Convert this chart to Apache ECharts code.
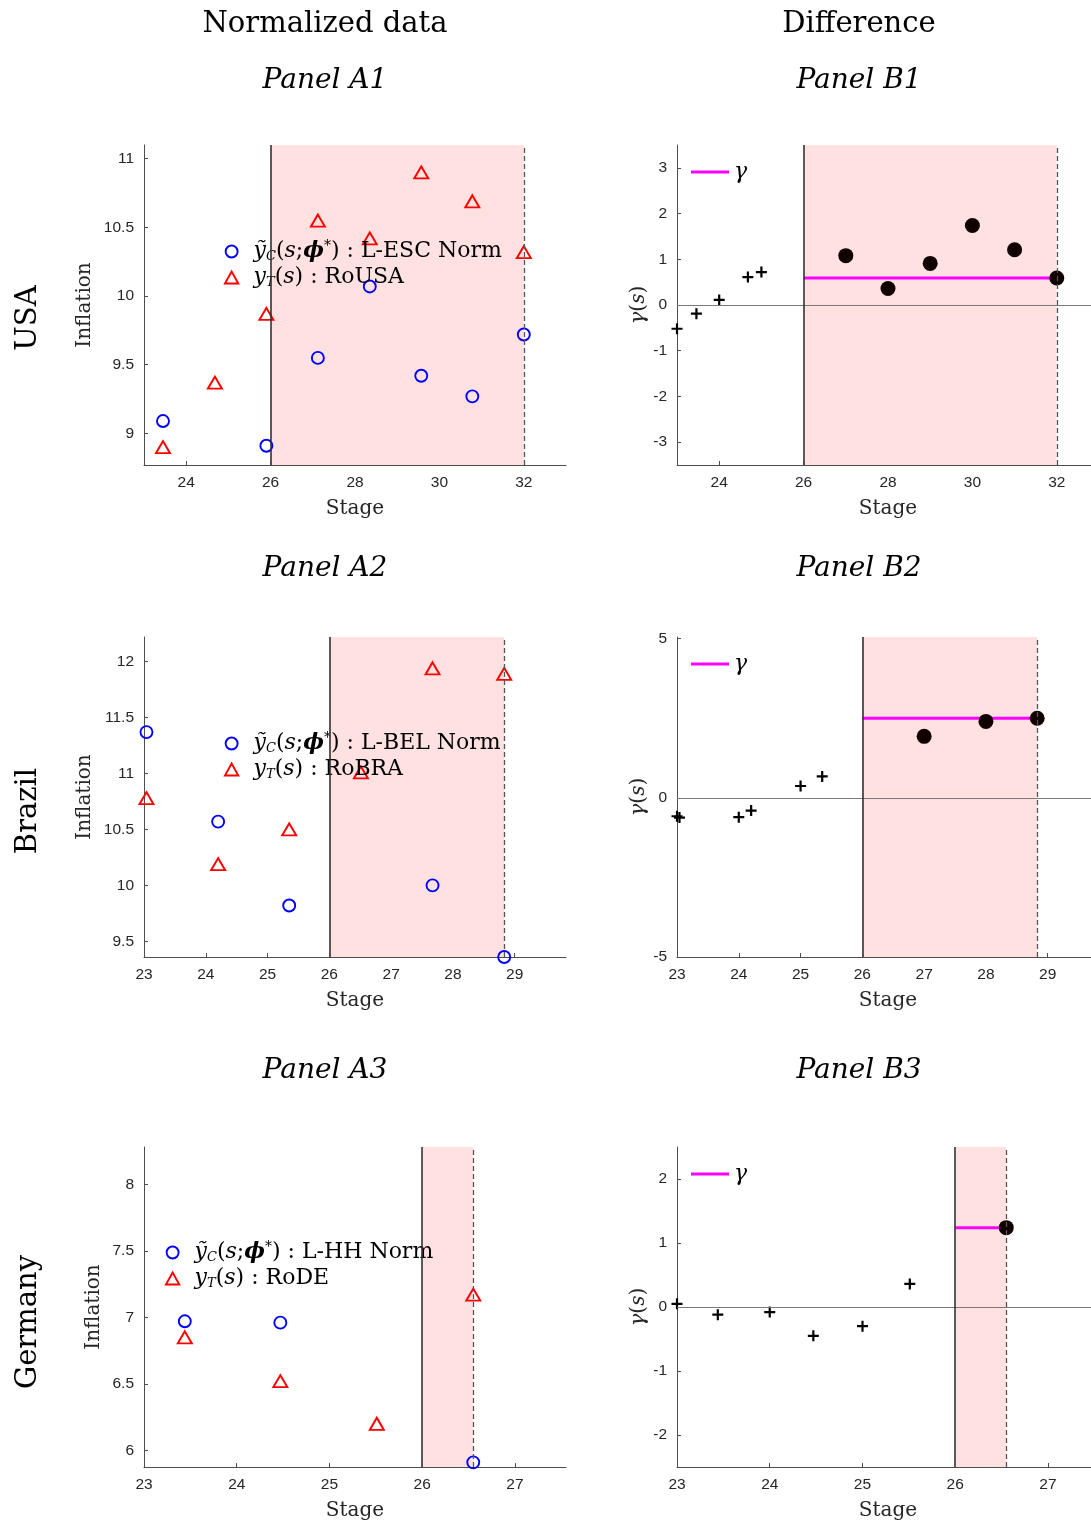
<!DOCTYPE html>
<html>
<head>
<meta charset="utf-8">
<script src="https://cdn.jsdelivr.net/npm/echarts@6/dist/echarts.min.js"></script>
<style>
  html, body { margin: 0; padding: 0; background: #fff; }
  #chart { width: 1091px; height: 1523px; }
</style>
</head>
<body>
<div id="chart"></div>
<script>
// ---------- USA ----------
const usaControlStage = [23.45, 25.90, 27.12, 28.35, 29.57, 30.78, 32.00];
const usaControl      = [9.09, 8.91, 9.55, 10.07, 9.42, 9.27, 9.72];
const usaTreatStage   = [23.45, 24.68, 25.90, 27.12, 28.35, 29.57, 30.78, 32.00];
const usaTreat        = [8.90, 9.37, 9.87, 10.55, 10.42, 10.90, 10.69, 10.32];
const usaPreStage     = [23.00, 23.46, 24.00, 24.68, 25.00];
const usaPreDiff      = [-0.52, -0.19, 0.11, 0.61, 0.72];
const usaPostStage    = [27, 28, 29, 30, 31, 32];
const usaPostDiff     = [1.08, 0.36, 0.91, 1.74, 1.21, 0.59];
const usaGamma        = 0.59;
const usaTreatStart   = 26;
const usaLastStage    = 32;
const usaStageRange   = [23, 33];
const usaStageTicks   = [24, 26, 28, 30, 32];
const usaLevelRange   = [8.77, 11.10];
const usaLevelTicks   = [9, 9.5, 10, 10.5, 11];
const usaDiffRange    = [-3.5, 3.5];
const usaDiffTicks    = [-3, -2, -1, 0, 1, 2, 3];

// ---------- Brazil ----------
const braControlStage = [23.04, 24.20, 25.35, 27.67, 28.83];
const braControl      = [11.37, 10.57, 9.82, 10.00, 9.36];
const braTreatStage   = [23.04, 24.20, 25.35, 26.51, 27.67, 28.83];
const braTreat        = [10.78, 10.19, 10.50, 11.01, 11.94, 11.89];
const braPreStage     = [23.00, 23.04, 24.00, 24.20, 25.00, 25.35];
const braPreDiff      = [-0.58, -0.62, -0.61, -0.40, 0.37, 0.67];
const braPostStage    = [27, 28, 28.83];
const braPostDiff     = [1.93, 2.40, 2.50];
const braGamma        = 2.50;
const braTreatStart   = 26;
const braLastStage    = 28.83;
const braStageRange   = [23, 29.83];
const braStageTicks   = [23, 24, 25, 26, 27, 28, 29];
const braLevelRange   = [9.36, 12.22];
const braLevelTicks   = [9.5, 10, 10.5, 11, 11.5, 12];
const braDiffRange    = [-5, 5.05];
const braDiffTicks    = [-5, 0, 5];

// ---------- Germany ----------
const gerControlStage = [23.44, 24.47, 26.55];
const gerControl      = [6.97, 6.96, 5.91];
const gerTreatStage   = [23.44, 24.47, 25.51, 26.55];
const gerTreat        = [6.85, 6.52, 6.20, 7.17];
const gerPreStage     = [23.00, 23.44, 24.00, 24.47, 25.00, 25.51];
const gerPreDiff      = [0.05, -0.12, -0.08, -0.45, -0.30, 0.36];
const gerPostStage    = [26.55];
const gerPostDiff     = [1.24];
const gerGamma        = 1.24;
const gerTreatStart   = 26;
const gerLastStage    = 26.55;
const gerStageRange   = [23, 27.55];
const gerStageTicks   = [23, 24, 25, 26, 27];
const gerLevelRange   = [5.875, 8.28];
const gerLevelTicks   = [6, 6.5, 7, 7.5, 8];
const gerDiffRange    = [-2.5, 2.5];
const gerDiffTicks    = [-2, -1, 0, 1, 2];

// ---------- labels ----------
const columnTitles = ['Normalized data', 'Difference'];
const countryNames = ['USA', 'Brazil', 'Germany'];
const controlNames = ['L-ESC Norm', 'L-BEL Norm', 'L-HH Norm'];
const treatNames   = ['RoUSA', 'RoBRA', 'RoDE'];

const SERIF = '"DejaVu Serif", "Liberation Serif", serif';
const SANS  = '"Liberation Sans", Arial, sans-serif';
const AXIS_COLOR = '#4d4d4d';
const TEXT_COLOR = '#262626';
const PLUS_PATH = 'path://M4,0H6V4H10V6H6V10H4V6H0V4H4Z';
const TRI_PATH  = 'path://M5,0L10,9L0,9Z';

const zip = (xs, ys) => xs.map((x, i) => [x, ys[i]]);

const rows = [
  { ctrlX: usaControlStage, ctrl: usaControl, trtX: usaTreatStage, trt: usaTreat,
    preX: usaPreStage, pre: usaPreDiff, postX: usaPostStage, post: usaPostDiff, gamma: usaGamma,
    start: usaTreatStart, last: usaLastStage, xr: usaStageRange, xt: usaStageTicks,
    lr: usaLevelRange, lt: usaLevelTicks, dr: usaDiffRange, dt: usaDiffTicks },
  { ctrlX: braControlStage, ctrl: braControl, trtX: braTreatStage, trt: braTreat,
    preX: braPreStage, pre: braPreDiff, postX: braPostStage, post: braPostDiff, gamma: braGamma,
    start: braTreatStart, last: braLastStage, xr: braStageRange, xt: braStageTicks,
    lr: braLevelRange, lt: braLevelTicks, dr: braDiffRange, dt: braDiffTicks },
  { ctrlX: gerControlStage, ctrl: gerControl, trtX: gerTreatStage, trt: gerTreat,
    preX: gerPreStage, pre: gerPreDiff, postX: gerPostStage, post: gerPostDiff, gamma: gerGamma,
    start: gerTreatStart, last: gerLastStage, xr: gerStageRange, xt: gerStageTicks,
    lr: gerLevelRange, lt: gerLevelTicks, dr: gerDiffRange, dt: gerDiffTicks }
];

// layout of the 3x2 panel grid
const rowTop = [145, 637, 1147];
const rowHeight = 320;
const colLeft = [144, 677];
const colWidth = 422;
const legendLeftA = [224, 224, 165];
const legendTopA = [239, 731, 1240];
const levelNameGap = [49, 49, 40];
const titleY = [81, 569, 1071];
const countryY = [318, 811, 1322];

const option = {
  animation: false,
  backgroundColor: '#fff',
  grid: [], xAxis: [], yAxis: [], series: [], legend: [], graphic: []
};

function valueAxis(gridIndex, range, ticks) {
  return {
    type: 'value', gridIndex, min: range[0], max: range[1],
    axisLine: { show: true, onZero: false, lineStyle: { color: AXIS_COLOR, width: 1 } },
    axisTick: { show: true, inside: true, length: 4, customValues: ticks, lineStyle: { color: AXIS_COLOR } },
    axisLabel: { show: true, customValues: ticks, color: TEXT_COLOR, fontFamily: SANS, fontSize: 15.5, margin: 10 },
    splitLine: { show: false }
  };
}

const legendRich = {
  it:  { fontFamily: SERIF, fontStyle: 'italic', fontSize: 22, lineHeight: 26, color: '#000' },
  rm:  { fontFamily: SERIF, fontSize: 22, lineHeight: 26, color: '#000' },
  sub: { fontFamily: SERIF, fontStyle: 'italic', fontSize: 13, lineHeight: 26, color: '#000', padding: [10, 0, 0, 0] },
  phi: { fontFamily: SERIF, fontStyle: 'italic', fontWeight: 'bold', fontSize: 22, lineHeight: 26, color: '#000' },
  sup: { fontFamily: SERIF, fontSize: 14, lineHeight: 26, color: '#000', padding: [0, 0, 11, 0] },
  g:   { fontFamily: SERIF, fontStyle: 'italic', fontSize: 22, lineHeight: 24, color: '#000' }
};

rows.forEach((r, i) => {
  const gA = i * 2, gB = i * 2 + 1;
  const top = rowTop[i];

  // ---- left column: normalized levels ----
  option.grid.push({ left: colLeft[0], top, width: colWidth, height: rowHeight, containLabel: false, outerBoundsMode: 'none' });
  option.xAxis.push(Object.assign(valueAxis(gA, r.xr, r.xt), {
    name: 'Stage', nameLocation: 'middle', nameGap: 34,
    nameTextStyle: { fontFamily: SERIF, fontSize: 20, color: TEXT_COLOR }
  }));
  option.yAxis.push(Object.assign(valueAxis(gA, r.lr, r.lt), {
    name: 'Inflation', nameLocation: 'middle', nameGap: levelNameGap[i], nameRotate: 90,
    nameTextStyle: { fontFamily: SERIF, fontSize: 20, color: TEXT_COLOR }
  }));

  // treatment window and stage markers
  option.series.push({
    type: 'line', xAxisIndex: gA, yAxisIndex: gA, data: [], silent: true, z: 1,
    markArea: { silent: true, itemStyle: { color: '#ffe1e2', opacity: 1 },
      data: [[{ xAxis: r.start }, { xAxis: r.last }]] },
    markLine: { silent: true, symbol: ['none', 'none'], label: { show: false },
      data: [
        { xAxis: r.start, lineStyle: { type: 'solid', color: '#333', width: 1.6 } },
        { xAxis: r.last, lineStyle: { type: [5, 3], color: '#555', width: 1.3 } }
      ] }
  });
  option.series.push({
    type: 'scatter', name: controlNames[i], xAxisIndex: gA, yAxisIndex: gA, clip: false, z: 3,
    data: zip(r.ctrlX, r.ctrl), symbol: 'circle', symbolSize: 12,
    itemStyle: { color: 'rgba(0,0,0,0)', borderColor: '#0000ff', borderWidth: 1.9, opacity: 1 }
  });
  option.series.push({
    type: 'scatter', name: treatNames[i], xAxisIndex: gA, yAxisIndex: gA, clip: false, z: 3,
    data: zip(r.trtX, r.trt), symbol: 'triangle', symbolSize: [14, 12],
    itemStyle: { color: 'rgba(0,0,0,0)', borderColor: '#ff0000', borderWidth: 1.9, opacity: 1 }
  });
  option.legend.push({
    orient: 'vertical', left: legendLeftA[i], top: legendTopA[i], padding: 0,
    itemWidth: 34, itemHeight: 12, itemGap: 2, selectedMode: false,
    data: [
      { name: controlNames[i], icon: 'circle', itemStyle: { color: 'rgba(0,0,0,0)', borderColor: '#0000ff', borderWidth: 1.9 } },
      { name: treatNames[i], icon: TRI_PATH, itemStyle: { color: 'rgba(0,0,0,0)', borderColor: '#ff0000', borderWidth: 1.9 } }
    ],
    formatter: name => name === controlNames[i]
      ? '{it|ỹ}{sub|C}{rm|(}{it|s}{rm|;}{phi|ϕ}{sup|*}{rm|) : ' + name + '}'
      : '{it|y}{sub|T}{rm|(}{it|s}{rm|) : ' + name + '}',
    textStyle: { rich: legendRich }
  });

  // ---- right column: differences ----
  option.grid.push({ left: colLeft[1], top, width: colWidth, height: rowHeight, containLabel: false, outerBoundsMode: 'none' });
  option.xAxis.push(Object.assign(valueAxis(gB, r.xr, r.xt), {
    name: 'Stage', nameLocation: 'middle', nameGap: 34,
    nameTextStyle: { fontFamily: SERIF, fontSize: 20, color: TEXT_COLOR }
  }));
  option.yAxis.push(Object.assign(valueAxis(gB, r.dr, r.dt), {
    name: '{g|γ}{r|(}{i|s}{r|)}', nameLocation: 'middle', nameGap: 27, nameRotate: 90,
    nameTextStyle: { color: TEXT_COLOR, rich: {
      g: { fontFamily: SERIF, fontStyle: 'italic', fontSize: 21, color: TEXT_COLOR },
      i: { fontFamily: SERIF, fontStyle: 'italic', fontSize: 20, color: TEXT_COLOR },
      r: { fontFamily: SERIF, fontSize: 20, color: TEXT_COLOR }
    } }
  }));
  option.series.push({
    type: 'line', xAxisIndex: gB, yAxisIndex: gB, data: [], silent: true, z: 1,
    markArea: { silent: true, itemStyle: { color: '#ffe1e2', opacity: 1 },
      data: [[{ xAxis: r.start }, { xAxis: r.last }]] },
    markLine: { silent: true, symbol: ['none', 'none'], label: { show: false },
      data: [
        { yAxis: 0, lineStyle: { type: 'solid', color: '#7a7a7a', width: 1 } },
        { xAxis: r.start, lineStyle: { type: 'solid', color: '#333', width: 1.6 } },
        { xAxis: r.last, lineStyle: { type: [5, 3], color: '#555', width: 1.3 } }
      ] }
  });
  option.series.push({
    type: 'line', name: 'γ', xAxisIndex: gB, yAxisIndex: gB, z: 2, silent: true,
    data: [[r.start, r.gamma], [r.last, r.gamma]], symbol: 'none',
    lineStyle: { color: '#ff00ff', width: 3 }
  });
  option.series.push({
    type: 'scatter', xAxisIndex: gB, yAxisIndex: gB, clip: false, z: 3,
    data: zip(r.preX, r.pre), symbol: PLUS_PATH, symbolSize: 11,
    itemStyle: { color: '#000', opacity: 1 }
  });
  option.series.push({
    type: 'scatter', xAxisIndex: gB, yAxisIndex: gB, clip: false, z: 4,
    data: zip(r.postX, r.post), symbol: 'circle', symbolSize: 15,
    itemStyle: { color: '#100000', opacity: 1 }
  });
  option.legend.push({
    orient: 'vertical', left: 691, top: top + 16, padding: 0,
    itemWidth: 38, itemHeight: 3, selectedMode: false,
    data: [{ name: 'γ', icon: 'rect', itemStyle: { color: '#ff00ff', borderWidth: 0 } }],
    formatter: () => '{g|γ}',
    textStyle: { rich: legendRich }
  });

  // panel titles and country label
  option.graphic.push({ type: 'text', x: 325, y: titleY[i], silent: true,
    style: { text: 'Panel A' + (i + 1), fontFamily: SERIF, fontStyle: 'italic', fontSize: 28, fill: '#000', align: 'center', verticalAlign: 'middle' } });
  option.graphic.push({ type: 'text', x: 859, y: titleY[i], silent: true,
    style: { text: 'Panel B' + (i + 1), fontFamily: SERIF, fontStyle: 'italic', fontSize: 28, fill: '#000', align: 'center', verticalAlign: 'middle' } });
  option.graphic.push({ type: 'text', x: 28, y: countryY[i], rotation: Math.PI / 2, silent: true,
    style: { text: countryNames[i], fontFamily: SERIF, fontSize: 29, fill: '#000', align: 'center', verticalAlign: 'middle' } });
});

option.graphic.push({ type: 'text', x: 325, y: 24, silent: true,
  style: { text: columnTitles[0], fontFamily: SERIF, fontSize: 29, fill: '#000', align: 'center', verticalAlign: 'middle' } });
option.graphic.push({ type: 'text', x: 859, y: 24, silent: true,
  style: { text: columnTitles[1], fontFamily: SERIF, fontSize: 29, fill: '#000', align: 'center', verticalAlign: 'middle' } });

const chart = echarts.init(document.getElementById('chart'), null, { renderer: 'canvas' });
chart.setOption(option);
</script>
</body>
</html>
